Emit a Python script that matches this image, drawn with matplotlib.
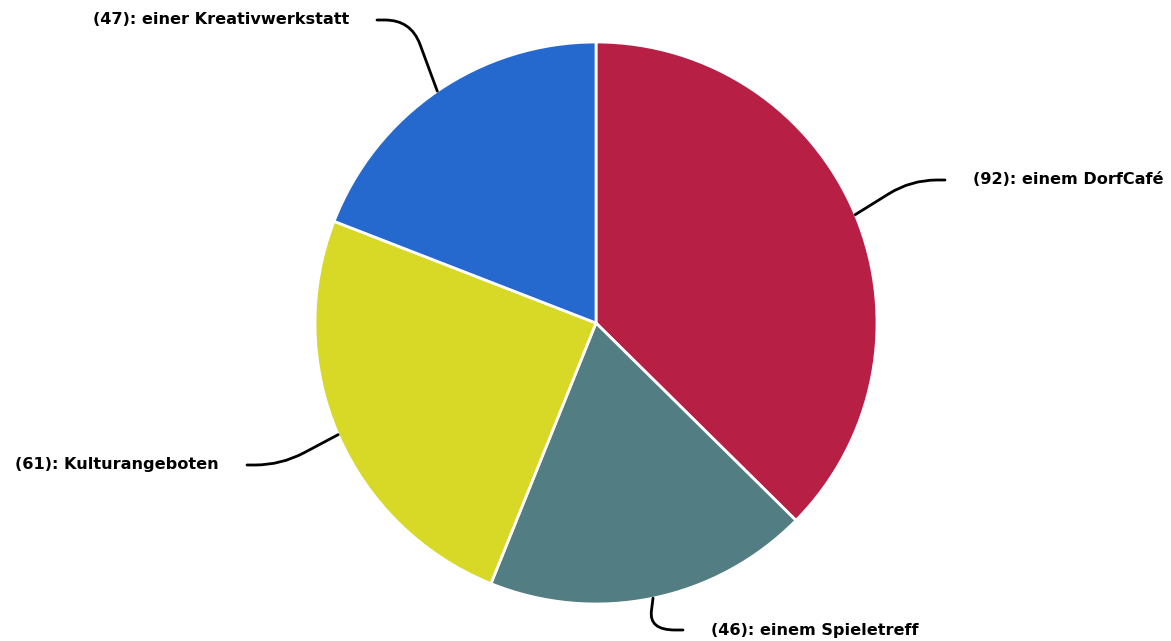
import matplotlib
matplotlib.use('Agg')
import matplotlib.pyplot as plt
import numpy as np
from matplotlib.path import Path
from matplotlib.patches import PathPatch

labels = ['einem DorfCafé', 'einem Spieletreff', 'Kulturangeboten', 'einer Kreativwerkstatt']
values = [92, 46, 61, 47]
colors = ['#B71F44', '#527D82', '#D8D827', '#2569CE']

W, H = 1171, 641
CX, CY, R = 596, 323, 281  # pie centre and radius in pixels

# label anchor (end of connector) in pixels
label_ends = [(945, 180), (683, 630), (247, 465), (377, 20)]
label_gap = 28
crook = 34      # horizontal run before the bend, pixels
round_r = 26    # corner rounding, pixels


def to_data(px, py):
    return (px - CX) / R, (CY - py) / R


fig = plt.figure(figsize=(W / 100, H / 100), dpi=100)
ax = fig.add_axes([0, 0, 1, 1])

wedges, _ = ax.pie(values, colors=colors, startangle=90, counterclock=False,
                   radius=1, center=(0, 0),
                   wedgeprops=dict(edgecolor='white', linewidth=2))

ax.set_aspect('auto')
ax.set_xlim(to_data(0, 0)[0], to_data(W, 0)[0])
ax.set_ylim(to_data(0, H)[1], to_data(0, 0)[1])
ax.axis('off')

for w, lab, val, (ex, ey) in zip(wedges, labels, values, label_ends):
    mid = np.deg2rad((w.theta1 + w.theta2) / 2)
    d = np.array([np.cos(mid), np.sin(mid)])
    p0 = d * 1.0
    p3 = np.array(to_data(ex, ey))
    side = 1 if p3[0] > p0[0] else -1
    c = p3 - np.array([side * crook / R, 0])
    dist0 = np.linalg.norm(p0 - c)
    u0 = (p0 - c) / dist0
    u3 = (p3 - c) / np.linalg.norm(p3 - c)
    a = c + u0 * min(round_r / R, dist0 * 0.6)
    b = c + u3 * round_r / R
    path = Path([p0, a, c, b, p3],
                [Path.MOVETO, Path.LINETO, Path.CURVE3, Path.CURVE3, Path.LINETO])
    ax.add_patch(PathPatch(path, facecolor='none', edgecolor='black', lw=2,
                           capstyle='round', zorder=3))
    tx = p3[0] + side * label_gap / R
    ax.text(tx, p3[1], '(%d): %s' % (val, lab), ha='left' if side > 0 else 'right',
            va='center', fontsize=11.6, fontweight='bold', color='black')

fig.savefig('out.png', dpi=100)
